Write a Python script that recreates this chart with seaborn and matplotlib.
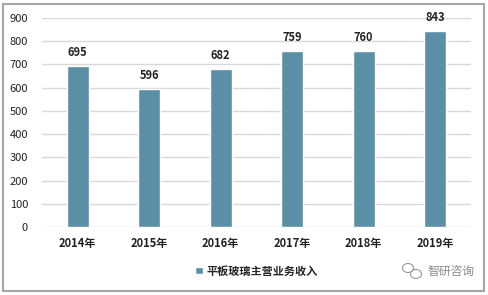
import matplotlib
matplotlib.use("Agg")
import matplotlib.pyplot as plt
import seaborn as sns
import pandas as pd
from matplotlib.patches import Rectangle, Ellipse

years = ["2014年", "2015年", "2016年", "2017年", "2018年", "2019年"]
revenue = [695, 596, 682, 759, 760, 843]
series_name = "平板玻璃主营业务收入"
yticks = [0, 100, 200, 300, 400, 500, 600, 700, 800, 900]

sns.set_theme(style="white")
plt.rcParams['font.family'] = ['Noto Sans CJK SC', 'DejaVu Sans']

W, H = 489, 295
fig = plt.figure(figsize=(W / 100, H / 100), dpi=100)
ax = fig.add_axes([42 / W, (H - 227) / H, (471 - 42) / W, (227 - 18) / H])

df = pd.DataFrame({"year": years, "value": revenue})
color = "#5B8FA7"
sns.barplot(data=df, x="year", y="value", color=color, width=0.31, ax=ax,
            saturation=1, label=series_name)

ax.set_ylim(0, 900)
ax.set_yticks(yticks)
ax.set_xlim(-0.5, len(years) - 0.5)
ax.yaxis.grid(True, color="#D9D9D9", linewidth=1)
ax.set_axisbelow(True)
for s in ax.spines.values():
    s.set_visible(False)
ax.set_xlabel("")
ax.set_ylabel("")
ax.tick_params(axis="y", labelsize=8, colors="#222222", pad=10, length=0)
ax.tick_params(axis="x", labelsize=8, colors="#222222", pad=7, length=0)
for t in ax.get_xticklabels():
    t.set_fontweight("bold")

for c in ax.containers:
    ax.bar_label(c, labels=[str(v) for v in revenue], padding=5, fontsize=8,
                 color="#222222", fontweight="bold")

leg = ax.legend(loc="center", bbox_to_anchor=(0.5, -0.21), frameon=False,
                handlelength=0.7, handleheight=0.7, handletextpad=0.4,
                prop={"weight": "bold", "size": 8})

# watermark
fig.text(427 / W, 1 - 271 / H, "智研咨询", fontsize=8.5, color="#8A8A8A",
         ha="left", va="center")
fig.patches.append(Ellipse((408 / W, 1 - 268 / H), 11 / W, 9 / H, transform=fig.transFigure,
                           fill=False, edgecolor="#9A9A9A", linewidth=0.8))
fig.patches.append(Ellipse((416 / W, 1 - 274 / H), 11 / W, 9 / H, transform=fig.transFigure,
                           fill=False, edgecolor="#9A9A9A", linewidth=0.8))

fig.patches.append(Rectangle((3 / W, 4 / H), 481 / W, 287 / H, transform=fig.transFigure,
                             fill=False, edgecolor="#A6A6A6", linewidth=1.5))

fig.savefig("out.png", dpi=100)
